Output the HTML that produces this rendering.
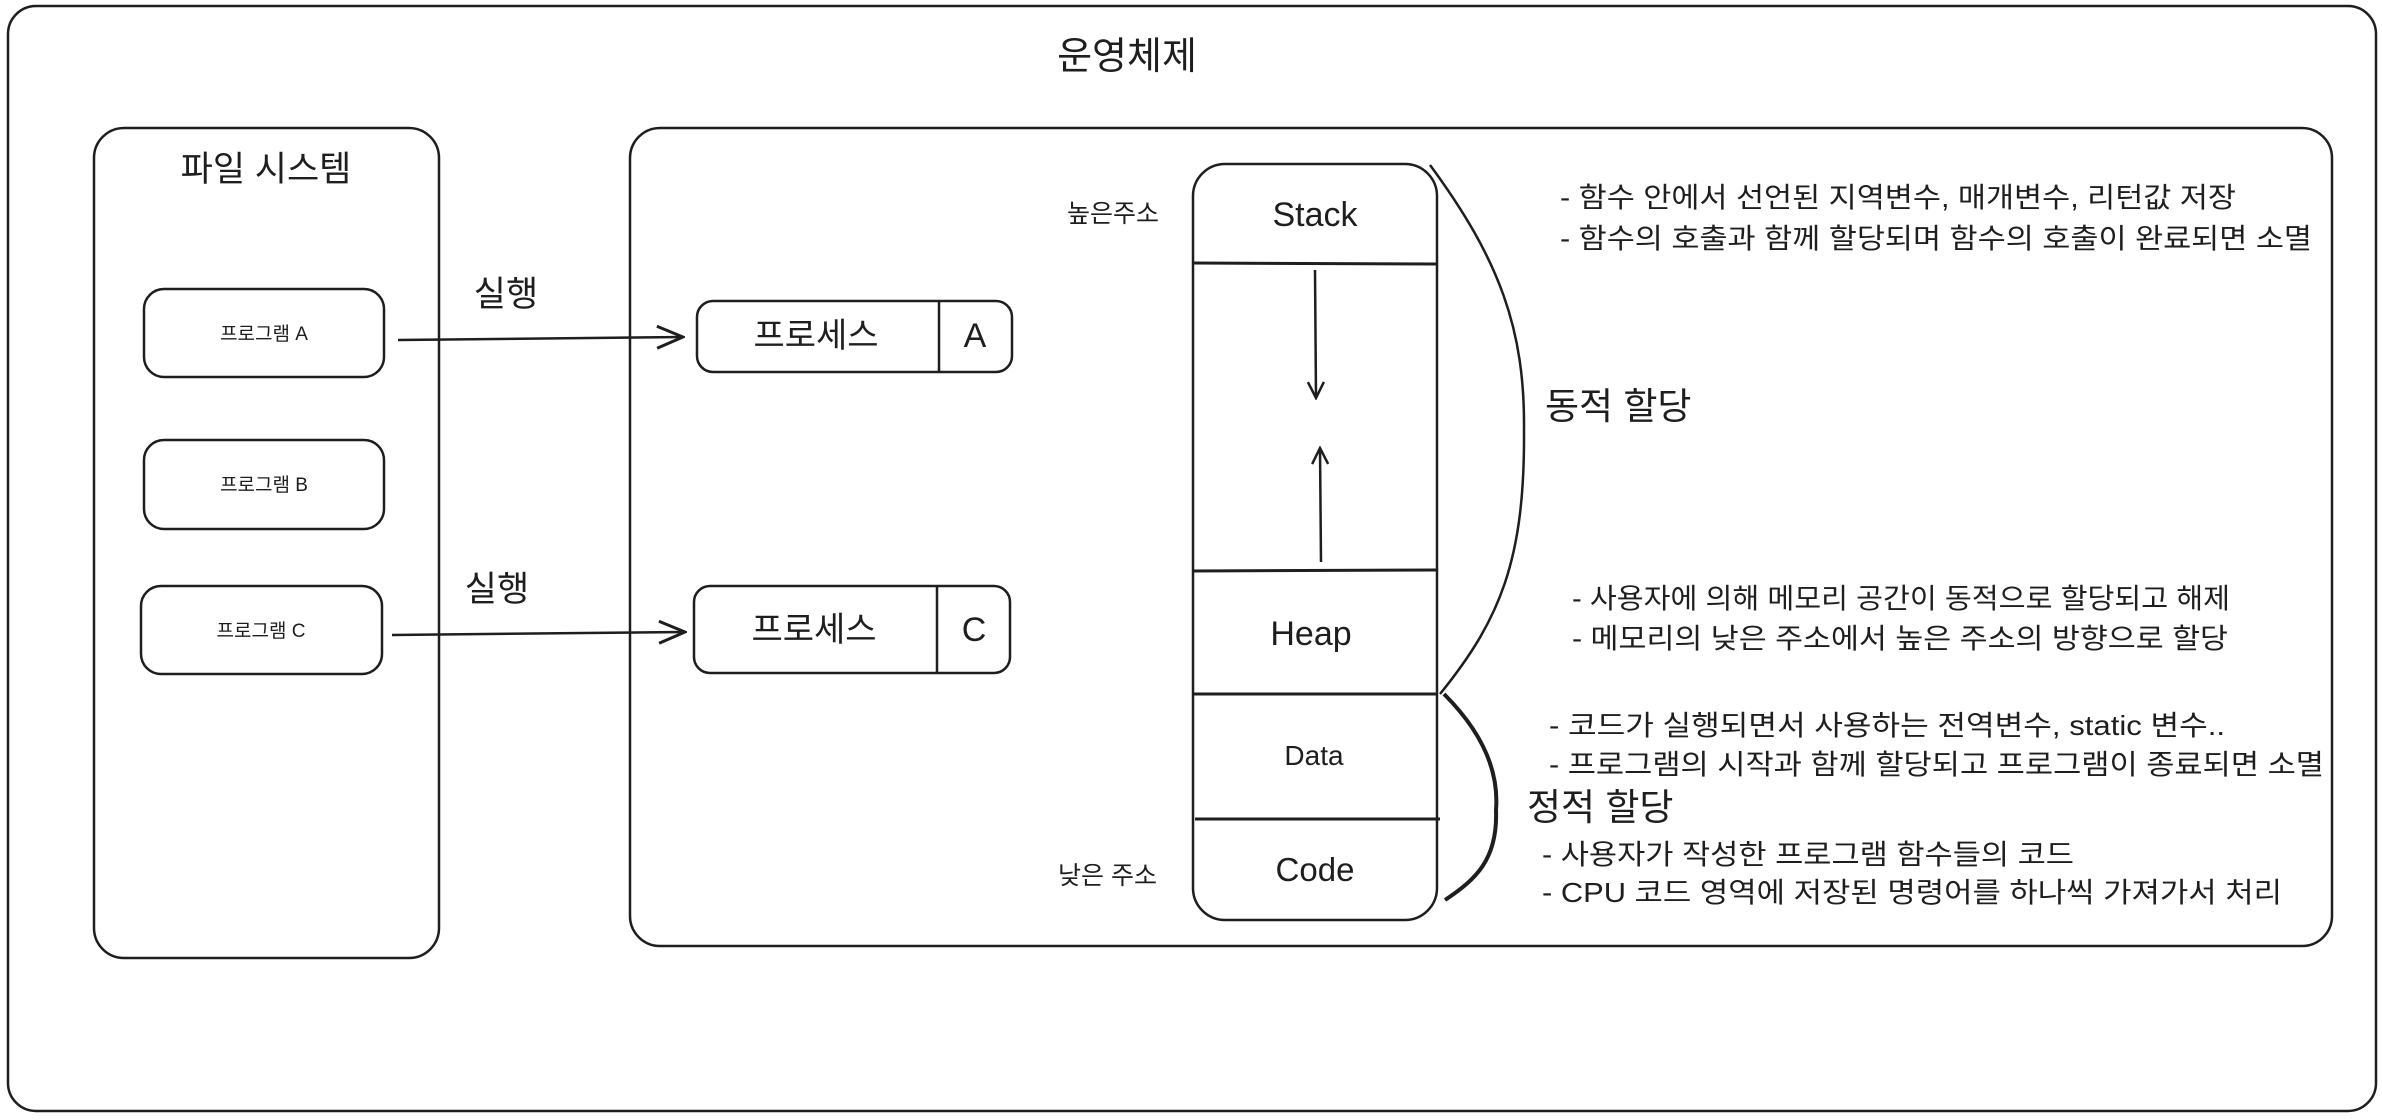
<!DOCTYPE html>
<html><head><meta charset="utf-8"><style>
html,body{margin:0;padding:0;background:#fff;}
svg{display:block;}
text{font-family:"Liberation Sans","Noto Sans CJK KR",sans-serif;fill:#1e1e1e;}
</style></head><body>
<svg width="2382" height="1120" viewBox="0 0 2382 1120" xmlns="http://www.w3.org/2000/svg">
<defs>
<marker id="ah" viewBox="0 0 20 20" refX="18" refY="10" markerWidth="20" markerHeight="20" markerUnits="userSpaceOnUse" orient="auto">
<path d="M2 2 L18 10 L2 18" fill="none" stroke="#1e1e1e" stroke-width="2.5"/>
</marker>
<marker id="ah2" viewBox="0 0 30 30" refX="28" refY="15" markerWidth="30" markerHeight="30" markerUnits="userSpaceOnUse" orient="auto">
<path d="M2 4 L28 15 L2 26" fill="none" stroke="#1e1e1e" stroke-width="3"/>
</marker>
</defs>
<g fill="none" stroke="#1e1e1e" stroke-width="2.5">
<rect x="8" y="6" width="2368" height="1105" rx="28"/>
<rect x="94" y="128" width="345" height="830" rx="30"/>
<rect x="144" y="289" width="240" height="88" rx="20"/>
<rect x="144" y="440" width="240" height="89" rx="20"/>
<rect x="141" y="586" width="241" height="88" rx="20"/>
<rect x="630" y="128" width="1702" height="818" rx="30"/>
<rect x="697" y="301" width="315" height="71" rx="16"/>
<line x1="939" y1="301" x2="939" y2="372"/>
<rect x="694" y="586" width="316" height="87" rx="16"/>
<line x1="937" y1="586" x2="937" y2="673"/>
<line x1="398" y1="340" x2="683" y2="337" marker-end="url(#ah2)"/>
<line x1="392" y1="635" x2="685" y2="632" marker-end="url(#ah2)"/>
<rect x="1193" y="164" width="244" height="756" rx="32"/>
<line x1="1193" y1="263" x2="1437" y2="264" stroke-width="3"/>
<line x1="1193" y1="571" x2="1437" y2="570" stroke-width="3"/>
<line x1="1193" y1="694" x2="1437" y2="694" stroke-width="3"/>
<line x1="1195" y1="819" x2="1440" y2="819" stroke-width="3"/>
<line x1="1315" y1="270" x2="1316" y2="398" marker-end="url(#ah)"/>
<line x1="1321" y1="562" x2="1320" y2="448" marker-end="url(#ah)"/>
<path d="M1430 165 C1500 260 1525 330 1524 430 C1525 560 1500 620 1440 694"/>
<path d="M1444 694 C1470 720 1500 760 1496 810 C1498 860 1475 880 1445 900" stroke-width="4"/>
</g>
<text x="1127" y="69" font-size="38" text-anchor="middle">운영체제</text>
<text x="266" y="181" font-size="35" text-anchor="middle">파일 시스템</text>
<text x="264" y="340" font-size="19" text-anchor="middle">프로그램 A</text>
<text x="264" y="491" font-size="19" text-anchor="middle">프로그램 B</text>
<text x="261" y="637" font-size="19" text-anchor="middle">프로그램 C</text>
<text x="506" y="306" font-size="35" text-anchor="middle">실행</text>
<text x="497" y="601" font-size="35" text-anchor="middle">실행</text>
<text x="816" y="347" font-size="34" text-anchor="middle">프로세스</text>
<text x="975" y="347" font-size="34" text-anchor="middle">A</text>
<text x="814" y="641" font-size="34" text-anchor="middle">프로세스</text>
<text x="974" y="641" font-size="34" text-anchor="middle">C</text>
<text x="1315" y="226" font-size="34" text-anchor="middle">Stack</text>
<text x="1311" y="645" font-size="34" text-anchor="middle">Heap</text>
<text x="1314" y="765" font-size="28" text-anchor="middle">Data</text>
<text x="1315" y="881" font-size="33" text-anchor="middle">Code</text>
<text x="1159" y="222" font-size="25" text-anchor="end">높은주소</text>
<text x="1157" y="884" font-size="25" text-anchor="end">낮은 주소</text>
<text x="1545" y="419" font-size="37">동적 할당</text>
<text x="1527" y="820" font-size="37">정적 할당</text>
<g font-size="28">
<text x="1560" y="207" textLength="676" lengthAdjust="spacingAndGlyphs">- 함수 안에서 선언된 지역변수, 매개변수, 리턴값 저장</text>
<text x="1560" y="248" textLength="752" lengthAdjust="spacingAndGlyphs">- 함수의 호출과 함께 할당되며 함수의 호출이 완료되면 소멸</text>
<text x="1572" y="608" textLength="658" lengthAdjust="spacingAndGlyphs">- 사용자에 의해 메모리 공간이 동적으로 할당되고 해제</text>
<text x="1572" y="648" textLength="656" lengthAdjust="spacingAndGlyphs">- 메모리의 낮은 주소에서 높은 주소의 방향으로 할당</text>
<text x="1549" y="735" textLength="676" lengthAdjust="spacingAndGlyphs">- 코드가 실행되면서 사용하는 전역변수, static 변수..</text>
<text x="1549" y="774" textLength="775" lengthAdjust="spacingAndGlyphs">- 프로그램의 시작과 함께 할당되고 프로그램이 종료되면 소멸</text>
<text x="1542" y="864" textLength="532" lengthAdjust="spacingAndGlyphs">- 사용자가 작성한 프로그램 함수들의 코드</text>
<text x="1542" y="902" textLength="740" lengthAdjust="spacingAndGlyphs">- CPU 코드 영역에 저장된 명령어를 하나씩 가져가서 처리</text>
</g>
</svg>
</body></html>
